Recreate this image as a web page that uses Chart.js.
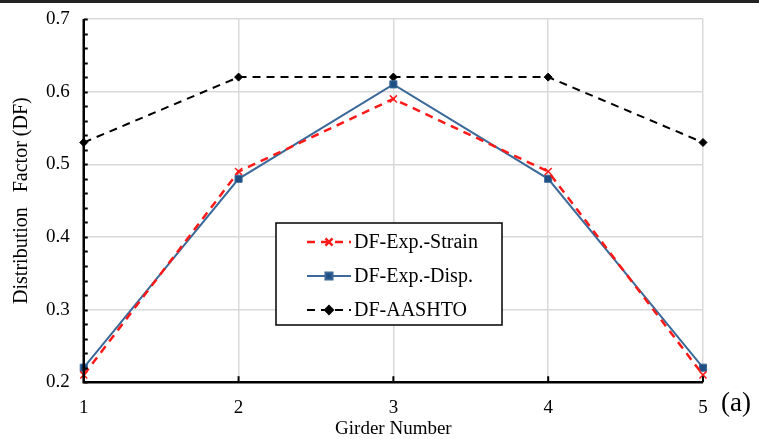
<!DOCTYPE html>
<html>
<head>
<meta charset="utf-8">
<script src="https://cdn.jsdelivr.net/npm/chart.js@4.4.0/dist/chart.umd.min.js"></script>
<style>
  html, body { margin: 0; padding: 0; background: #fff; }
  #wrap { position: relative; width: 759px; height: 439px; }
  #topRule { position: absolute; left: 0; top: 0; width: 759px; height: 3px; background: #222; }
  #panel { position: absolute; left: 721px; top: 387px; font: 27px "Liberation Serif", serif; color: #000; }
</style>
</head>
<body>
<div id="wrap">
  <canvas id="chart" width="759" height="439"></canvas>
  <div id="topRule"></div>
  <div id="panel">(a)</div>
</div>
<script>
// --- datos ---
const girders = ['1', '2', '3', '4', '5'];
const dfStrain = [0.21, 0.49, 0.59, 0.49, 0.21];
const dfDisp = [0.22, 0.48, 0.61, 0.48, 0.22];
const dfAashto = [0.53, 0.62, 0.62, 0.62, 0.53];
const yTicks = [0.2, 0.3, 0.4, 0.5, 0.6, 0.7];

const SERIF = '"Liberation Serif", "Times New Roman", serif';

// marcas menores hacia dentro del eje Y y marcas del eje X hacia arriba
const innerTicks = {
    id: 'innerTicks',
    afterDraw(chart) {
        const ctx = chart.ctx;
        const y = chart.scales.y;
        const x = chart.scales.x;
        const area = chart.chartArea;
        ctx.save();
        ctx.strokeStyle = '#000';
        ctx.lineWidth = 2;
        for (let v = 0.2; v <= 0.7001; v += 0.02) {
            const py = Math.round(y.getPixelForValue(v)) + 0.5;
            ctx.beginPath();
            ctx.moveTo(area.left, py);
            ctx.lineTo(area.left + 4, py);
            ctx.stroke();
        }
        girders.forEach((g, i) => {
            const px = x.getPixelForValue(i);
            ctx.beginPath();
            ctx.moveTo(px, area.bottom);
            ctx.lineTo(px, area.bottom - 6);
            ctx.stroke();
        });
        // ejes negros
        ctx.lineWidth = 2.5;
        ctx.beginPath();
        ctx.moveTo(area.left, area.top);
        ctx.lineTo(area.left, area.bottom);
        ctx.lineTo(area.right, area.bottom);
        ctx.stroke();
        ctx.restore();
    }
};

new Chart(document.getElementById('chart').getContext('2d'), {
    type: 'line',
    data: {
        labels: girders,
        datasets: [{
            label: 'DF-Exp.-Strain',
            data: dfStrain,
            borderColor: '#ff1a1a',
            backgroundColor: '#ff1a1a',
            borderWidth: 2.5,
            borderDash: [8, 6],
            pointStyle: 'crossRot',
            pointRadius: 5,
            pointBorderWidth: 1.5,
            tension: 0
        }, {
            label: 'DF-Exp.-Disp.',
            data: dfDisp,
            borderColor: '#3b6a9a',
            backgroundColor: '#1f4f82',
            borderWidth: 2,
            pointStyle: 'rect',
            pointRadius: 5,
            pointBorderWidth: 1,
            tension: 0
        }, {
            label: 'DF-AASHTO',
            data: dfAashto,
            borderColor: '#000',
            backgroundColor: '#000',
            borderWidth: 2,
            borderDash: [8, 6],
            pointStyle: 'rectRot',
            pointRadius: 4,
            pointBorderWidth: 1,
            tension: 0
        }]
    },
    options: {
        responsive: false,
        animation: false,
        layout: { padding: { top: 19, right: 56, left: 0, bottom: 0 } },
        plugins: {
            legend: { display: false },
            tooltip: { enabled: false }
        },
        scales: {
            x: {
                offset: false,
                grid: { color: '#d9d9d9', lineWidth: 1.5, drawTicks: false },
                border: { display: false },
                ticks: { color: '#000', font: { family: SERIF, size: 19 }, padding: 14 },
                title: { display: true, text: 'Girder Number', color: '#000', font: { family: SERIF, size: 19, lineHeight: 1 }, padding: { top: -13, bottom: 0 } }
            },
            y: {
                min: 0.2,
                max: 0.7,
                afterBuildTicks: (axis) => { axis.ticks = yTicks.map(v => ({ value: v })); },
                afterFit: (axis) => { axis.paddingTop = 0; axis.paddingBottom = 0; },
                grid: { color: '#d9d9d9', lineWidth: 1.5, drawTicks: false },
                border: { display: false },
                ticks: {
                    color: '#000',
                    font: { family: SERIF, size: 19 },
                    padding: 14,
                    callback: (v) => v.toFixed(1)
                },
                title: { display: true, text: 'Distribution   Factor (DF)', color: '#000', font: { family: SERIF, size: 20, lineHeight: 1 }, padding: { top: 12, bottom: 0 } }
            }
        }
    },
    plugins: [innerTicks, {
        // leyenda en caja
        id: 'boxLegend',
        afterDraw(chart) {
            const ctx = chart.ctx;
            const bx = 276, by = 223, bw = 226, bh = 102;
            ctx.save();
            ctx.fillStyle = '#fff';
            ctx.fillRect(bx, by, bw, bh);
            ctx.strokeStyle = '#000';
            ctx.lineWidth = 1.5;
            ctx.strokeRect(bx, by, bw, bh);
            ctx.font = '20px ' + SERIF;
            ctx.textBaseline = 'middle';
            chart.data.datasets.forEach((ds, i) => {
                const cy = by + 19 + i * 34;
                ctx.strokeStyle = ds.borderColor;
                ctx.lineWidth = ds.borderWidth;
                ctx.setLineDash(ds.borderDash || []);
                ctx.beginPath();
                ctx.moveTo(307, cy);
                ctx.lineTo(351, cy);
                ctx.stroke();
                ctx.setLineDash([]);
                ctx.fillStyle = ds.backgroundColor;
                ctx.strokeStyle = ds.borderColor;
                Chart.helpers.drawPoint(ctx, {
                    pointStyle: ds.pointStyle, radius: ds.pointRadius, borderWidth: ds.pointBorderWidth
                }, 329, cy);
                ctx.fillStyle = '#000';
                ctx.fillText(ds.label, 354, cy + 1);
            });
            ctx.restore();
        }
    }]
});
</script>
</body>
</html>
